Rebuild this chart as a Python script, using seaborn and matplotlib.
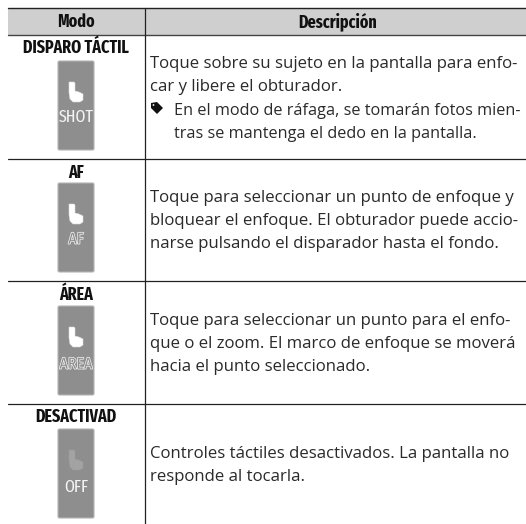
import matplotlib
matplotlib.use("Agg")
import matplotlib.pyplot as plt
import matplotlib.patheffects as pe
import seaborn as sns
from matplotlib.patches import Circle, FancyBboxPatch, Polygon, Rectangle
from matplotlib import font_manager as fm

headers = ["Modo", "Descripción"]
modes = ["DISPARO TÁCTIL", "AF", "ÁREA", "DESACTIVAD"]
button_labels = ["SHOT", "AF", "AREA", "OFF"]
descriptions = [
    ["Toque sobre su sujeto en la pantalla para enfo-",
     "car y libere el obturador."],
    ["Toque para seleccionar un punto de enfoque y",
     "bloquear el enfoque. El obturador puede accio-",
     "narse pulsando el disparador hasta el fondo."],
    ["Toque para seleccionar un punto para el enfo-",
     "que o el zoom. El marco de enfoque se moverá",
     "hacia el punto seleccionado."],
    ["Controles táctiles desactivados. La pantalla no",
     "responde al tocarla."],
]
note_lines = ["En el modo de ráfaga, se tomarán fotos mien-",
              "tras se mantenga el dedo en la pantalla."]

row_lines = [35, 159, 281, 404]
button_tops = [60, 182, 305, 428]
text_base = [68, 202, 325, 458]
mode_y = [48, 173, 295, 417]
label_y = [57, 57, 59, 59]
off_index = 3
outlined = {1, 2}

sns.set_theme(style="white")
names = {f.name for f in fm.fontManager.ttflist}
def pick(*cands):
    for c in cands:
        if c in names:
            return c
    return "DejaVu Sans"
narrow = pick("Fira Sans Extra Condensed", "Fira Sans Condensed", "Roboto Condensed", "Roboto")
semi = pick("Fira Sans Condensed", "Roboto Condensed", "Roboto")
body = pick("Open Sans", "Noto Sans")

fig = plt.figure(figsize=(5.26, 5.24), dpi=100)
ax = fig.add_axes([0, 0, 1, 1])
ax.set_xlim(0, 526)
ax.set_ylim(524, 0)
ax.axis("off")
sns.despine(ax=ax, left=True, bottom=True)

line = "#222222"
ax.add_patch(Rectangle((8, 8), 518, 27, fc="#cfcfcf", ec="none", zorder=1))
ax.plot([8, 526], [8, 8], color=line, lw=1.0, zorder=3)
ax.plot([8, 526], [35, 35], color="#444444", lw=1.0, zorder=3)
for y in row_lines[1:]:
    ax.plot([8, 526], [y, y], color=line, lw=0.9, zorder=3)
ax.plot([144.5, 144.5], [8, 524], color=line, lw=0.9, zorder=3)

hdr = dict(family=narrow, weight="bold", size=12.5, color="#111111", ha="center", va="center")
ax.text(76, 22, headers[0], **hdr)
ax.text(338, 22, headers[1], **hdr)

hand_shape = [(-7, -19), (-2, -19), (-1, -18), (-1, -10), (3, -9), (7, -7), (7, -1),
              (4, 1), (-3, 1), (-6, -2), (-7, -8)]

for i, mode in enumerate(modes):
    ax.text(76, mode_y[i], mode, family=narrow, weight="bold", size=12.5,
            color="#111111", ha="center", va="center")
    top = button_tops[i]
    ax.add_patch(FancyBboxPatch((58, top + 1), 36, 89, boxstyle="round,pad=0,rounding_size=1.5",
                                fc="#8e8e8e", ec="#b5b5b5", lw=0.8, zorder=2))
    off = i == off_index
    ax.add_patch(Polygon([(76 + x, top + 41 + y) for x, y in hand_shape],
                         closed=True, fc="#a3a3a3" if off else "#ffffff",
                         ec="#9a9a9a" if off else "#dddddd", lw=0.4, zorder=4))
    if i in outlined:
        t = ax.text(76, top + label_y[i], button_labels[i], family=semi, size=11.5, color="#8e8e8e",
                    ha="center", va="center", zorder=4)
        t.set_path_effects([pe.withStroke(linewidth=1.1, foreground="#f0f0f0")])
    else:
        ax.text(76, top + label_y[i], button_labels[i], family=narrow, size=12.5, color="#f4f4f4",
                ha="center", va="center", zorder=4)
    for j, txt in enumerate(descriptions[i]):
        ax.text(150, text_base[i] + 23.2 * j, txt, family=body, size=12.1, color="#2a2a2a",
                ha="left", va="baseline")

ax.add_patch(Polygon([(151, 103), (157, 102), (163, 108), (157, 114), (151, 108)],
                     closed=True, fc="#111111", ec="none", zorder=4))
ax.add_patch(Circle((153.5, 105), 0.9, fc="#ffffff", ec="none", zorder=5))
for y, txt in zip([115, 138], note_lines):
    ax.text(174, y, txt, family=body, size=11.7, color="#2a2a2a", ha="left", va="baseline")

fig.savefig("out.png", dpi=100)
